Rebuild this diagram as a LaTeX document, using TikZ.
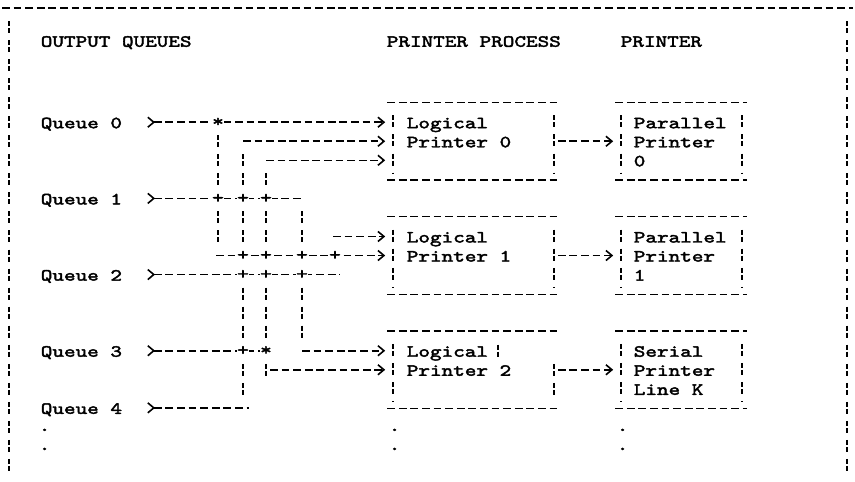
\documentclass[tikz,border=0pt]{standalone}
\usepackage{fontspec}
\newfontfamily\asciifont{lmmono10-regular.otf}[FakeStretch=1.3,FakeBold=2.5]
\newcommand\asc{\asciifont\fontsize{17pt}{19pt}\selectfont}
\usetikzlibrary{arrows.meta}
\tikzset{qtip/.tip={Straight Barb[reversed,length=6pt,width=10pt]}}

\begin{document}
\begin{tikzpicture}[x=1pt,y=-19.04pt,line width=1.6pt,
  >={Straight Barb[length=6pt,width=10pt]},
  hline/.style={dash pattern=on 7.8pt off 3.8pt},
  vbar/.style={dash pattern=on 5pt off 2pt on 5pt off 7.04pt,dash phase=6pt},
  cut top/.style={shorten <=7pt,dash phase=13pt},
  cut bottom/.style={shorten >=7pt},
  feed/.style={hline,->,shorten >=8pt},
  lbl/.style={anchor=base west,inner sep=0pt,yshift=-6pt,font=\asc},
  junc/.style={font=\asc,fill=white,inner sep=0pt,minimum width=8pt,minimum height=13pt},
  slot/.style={inner sep=0pt,minimum height=76.16pt}]
\useasboundingbox (0,-0.4202) rectangle (855,24.895);

% frame
\coordinate (fnw) at (2,0);
\coordinate (fne) at (853,0);
\coordinate (fl0) at (9,0);
\coordinate (fl1) at (9,25);
\coordinate (fr0) at (847,0);
\coordinate (fr1) at (847,25);
\draw[hline] (fnw) -- (fne);
\draw[vbar,cut top,cut bottom] (fl0) -- (fl1);
\draw[vbar,cut top,cut bottom] (fr0) -- (fr1);

% headings
\node[lbl] (hq) at (40,1.72) {OUTPUT QUEUES};
\node[lbl] (hp) at (386,1.72) {PRINTER PROCESS};
\node[lbl] (hr) at (620,1.72) {PRINTER};

% queues
\node[lbl] (q0) at (40,6) {Queue 0};
\node[lbl] (q1) at (40,10) {Queue 1};
\node[lbl] (q2) at (40,14) {Queue 2};
\node[lbl] (q3) at (40,18) {Queue 3};
\node[lbl] (q4) at (40,21) {Queue 4};
\node[lbl] (v0) at (38,21.9) {.};
\node[lbl] (v1) at (38,22.9) {.};

% logical printers and printers
\node[slot,minimum width=159pt] (lp0) at (473.5,7) {};
\node[slot,minimum width=159pt] (lp1) at (473.5,13) {};
\node[slot,minimum width=159pt] (lp2) at (473.5,19) {};
\node[slot,minimum width=119pt] (pp0) at (681.5,7) {};
\node[slot,minimum width=119pt] (pp1) at (681.5,13) {};
\node[slot,minimum width=119pt] (pp2) at (681.5,19) {};

\node[lbl] (lg0) at (406,6) {Logical};
\node[lbl] (pn0) at (406,7) {Printer 0};
\node[lbl] (lg1) at (406,12) {Logical};
\node[lbl] (pn1) at (406,13) {Printer 1};
\node[lbl] (lg2) at (406,18) {Logical};
\node[lbl] (pn2) at (406,19) {Printer 2};
\node[lbl] (v2) at (388,21.9) {.};
\node[lbl] (v3) at (388,22.9) {.};

\node[lbl] (pa0) at (633,6) {Parallel};
\node[lbl] (pt0) at (633,7) {Printer};
\node[lbl] (nr0) at (633,8) {0};
\node[lbl] (pa1) at (633,12) {Parallel};
\node[lbl] (pt1) at (633,13) {Printer};
\node[lbl] (nr1) at (633,14) {1};
\node[lbl] (se2) at (633,18) {Serial};
\node[lbl] (pt2) at (633,19) {Printer};
\node[lbl] (lk2) at (633,20) {Line K};
\node[lbl] (v4) at (616,21.9) {.};
\node[lbl] (v5) at (616,22.9) {.};

\foreach \bx in {lp0,lp1,lp2,pp0,pp1,pp2}{
  \draw[hline] ([xshift=-6pt]\bx.north west) -- ([xshift=5pt]\bx.north east);
  \draw[hline] ([xshift=-6pt]\bx.south west) -- ([xshift=5pt]\bx.south east);
  \draw[vbar,cut top,cut bottom] (\bx.north west) -- (\bx.south west);
}
\foreach \bx in {lp0,lp1,pp0,pp1,pp2}
  \draw[vbar,cut top,cut bottom] (\bx.north east) -- (\bx.south east);
\coordinate (lk) at (498,18);
\draw[vbar,dash phase=0pt] ([yshift=6pt]lk) -- ([yshift=-6pt]lk);
\draw[vbar,dash phase=0pt,cut bottom] ([yshift=6pt]lp2.east) -- (lp2.south east);

% queue line starts, corners and crossings
\coordinate (s0) at (147,6);
\coordinate (s1) at (147,10);
\coordinate (s2) at (147,14);
\coordinate (s3) at (147,18);
\coordinate (s4) at (147,21);
\coordinate (a6) at (218,6);
\coordinate (b7) at (243,7);
\coordinate (c8) at (266,8);
\coordinate (a10) at (218,10);
\coordinate (b10) at (243,10);
\coordinate (c10) at (266,10);
\coordinate (d10) at (302,10);
\coordinate (e12) at (333,12);
\coordinate (a13) at (218,13);
\coordinate (b13) at (243,13);
\coordinate (c13) at (266,13);
\coordinate (d13) at (302,13);
\coordinate (e13) at (335,13);
\coordinate (b14) at (243,14);
\coordinate (c14) at (266,14);
\coordinate (d14) at (302,14);
\coordinate (e14) at (340,14);
\coordinate (b18) at (243,18);
\coordinate (c18) at (266,18);
\coordinate (d18) at (302,18);
\coordinate (c19) at (266,19);
\coordinate (b21) at (243,21);

% vertical runs
\draw[vbar,cut bottom] (a6) -- (a13);
\draw[vbar,cut top,cut bottom] (b7) -- (b21);
\draw[vbar,cut top,shorten >=-6pt] (c8) -- (c19);
\draw[vbar,cut top,cut bottom] (d10) -- (d18);

% horizontal runs
\draw[hline,qtip->,shorten >=8pt] (s0) -- (s0 -| lp0.west);
\draw[feed] (b7) -- (b7 -| lp0.west);
\draw[feed] (c8) -- (c8 -| lp0.west);
\draw[hline,qtip-] (s1) -- (d10);
\draw[feed] (e12) -- (e12 -| lp1.west);
\draw[feed,shorten <=-2pt] (a13) -- (a13 -| lp1.west);
\draw[hline,qtip-] (s2) -- (e14);
\draw[hline,qtip-] (s3) -- (c18);
\draw[feed] (d18) -- (d18 -| lp2.west);
\draw[feed,shorten <=4pt] (c19) -- (c19 -| lp2.west);
\draw[hline,qtip-,shorten >=-6pt] (s4) -- (b21);

\draw[feed,shorten <=4pt] (lp0) -- (pp0);
\draw[feed,shorten <=4pt] (lp1) -- (pp1);
\draw[feed,shorten <=4pt] (lp2) -- (pp2);

% junction marks
\node[junc] (ma6) at (a6) {*};
\node[junc] (ma10) at (a10) {+};
\node[junc] (mb10) at (b10) {+};
\node[junc] (mc10) at (c10) {+};
\node[junc] (mb13) at (b13) {+};
\node[junc] (mc13) at (c13) {+};
\node[junc] (md13) at (d13) {+};
\node[junc] (me13) at (e13) {+};
\node[junc] (mb14) at (b14) {+};
\node[junc] (mc14) at (c14) {+};
\node[junc] (md14) at (d14) {+};
\node[junc] (mb18) at (b18) {+};
\node[junc] (mc18) at (c18) {*};
\end{tikzpicture}
\end{document}
